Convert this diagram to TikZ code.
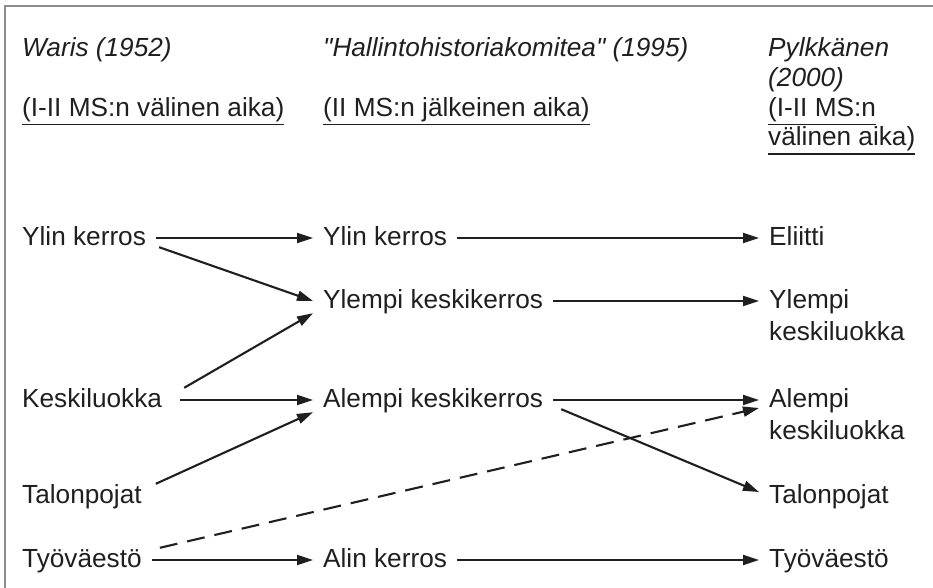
\documentclass[tikz,border=0pt]{standalone}
\usepackage{fontspec}
\setmainfont{Liberation Sans}[Ligatures=TeXOff]
\usetikzlibrary{arrows.meta,calc}
\definecolor{ink}{HTML}{1F1F1F}
\definecolor{framec}{HTML}{8C8C8C}
\newcommand{\myul}[1]{\vtop{\hbox{#1}\kern2pt\hrule height 1.5pt}}
\begin{document}
\begin{tikzpicture}[x=1pt,y=-1pt,
  every node/.style={text=ink},
  lbl/.style={anchor=base west, inner xsep=10pt, inner ysep=0pt, text height=19pt, text depth=5pt, font=\fontsize{26.2}{32}\selectfont},
  lbltwo/.style={anchor=north west, inner xsep=10pt, inner ysep=0pt, align=left, font=\fontsize{26.2}{32}\selectfont},
  hdr/.style={anchor=north west, inner sep=0pt, align=left, font=\fontsize{26.2}{29.5}\selectfont},
  hdri/.style={hdr, font=\fontsize{26.2}{30}\selectfont\itshape},
  arr/.style={draw=ink, line width=2.1pt, -{Triangle[length=16pt,width=10pt]}},
  dsh/.style={arr, dash pattern=on 18pt off 10pt}]
\useasboundingbox (0,0) rectangle (933,588);
\draw[framec, line width=1.4pt] (933,6) -- (5,6) -- (5,588);

% headers
\node[hdri] (hW) at (22,37) {Waris (1952)};
\node[hdr] (hWs) at (22,97) {\myul{(I-II MS:n välinen aika)}};
\node[hdri] (hH) at (323,37) {"Hallintohistoriakomitea" (1995)};
\node[hdr] (hHs) at (323,97) {\myul{(II MS:n jälkeinen aika)}};
\node[hdri] (hP) at (768,37) {Pylkkänen\\(2000)};
\node[hdr] (hPs) at (768,97) {\myul{(I-II MS:n}\\\myul{välinen aika)}};

% left column
\node[lbl] (ylL) at (12,245) {Ylin kerros};
\node[lbl] (keL) at (12,407) {Keskiluokka};
\node[lbl] (taL) at (12,503) {Talonpojat};
\node[lbl] (tyL) at (12,567) {Työväestö};

% middle column
\node[lbl] (ylM) at (313,245) {Ylin kerros};
\node[lbl] (yeM) at (313,308) {Ylempi keskikerros};
\node[lbl] (alM) at (313,407) {Alempi keskikerros};
\node[lbl] (aliM) at (313,567) {Alin kerros};

% right column
\node[lbl] (elR) at (759,245) {Eliitti};
\node[lbltwo] (yeR) at (759,289) {Ylempi\\keskiluokka};
\node[lbltwo] (alR) at (759,388) {Alempi\\keskiluokka};
\node[lbl] (taR) at (759,503) {Talonpojat};
\node[lbl] (tyR) at (759,567) {Työväestö};

% connectors
\draw[arr] (ylL.east) -- (ylM.west);
\draw[arr] (ylM.east) -- (elR.west);
\draw[arr] ($(ylL.south east)+(3,-3)$) -- (yeM.west);
\draw[arr] ($(keL.north east)+(12,0)$) -- (yeM.south west);
\draw[arr] ($(keL.east)+(8,0)$) -- (alM.west);
\draw[arr] ($(taL.north east)+(4,0)$) -- (alM.south west);
\draw[dsh] ($(tyL.north east)+(8,0)$) -- ($(alR.north west)+(0,20)$);
\draw[arr] (tyL.east) -- (aliM.west);
\draw[arr] (yeM.east) -- ($(yeR.north west)+(0,12)$);
\draw[arr] (alM.east) -- ($(alR.north west)+(0,12)$);
\draw[arr] ($(alM.south east)+(8,-3)$) -- ($(taR.west)+(0,-4)$);
\draw[arr] (aliM.east) -- (tyR.west);
\end{tikzpicture}
\end{document}
